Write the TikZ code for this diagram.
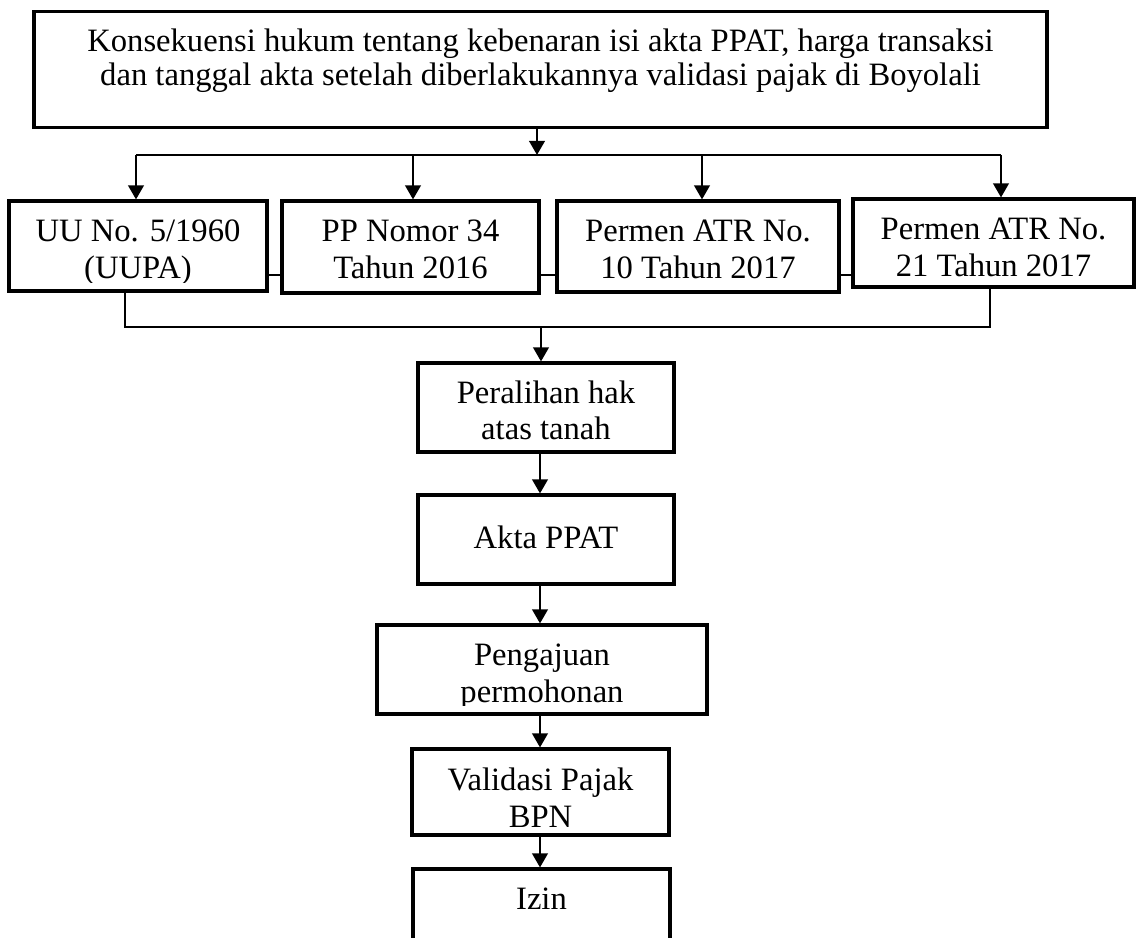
\documentclass[tikz,border=0pt]{standalone}
\usepackage{fontspec}
\setmainfont{Liberation Serif}
\usetikzlibrary{arrows.meta,calc}
\newlength{\satuan}
\setlength{\satuan}{0.025cm}
\newcommand{\isikotak}[4][]{%
        \begin{scope}
                \clip ([shift={(3pt,-3pt)}]#2.north west) rectangle ([shift={(-3pt,7pt)}]#2.south east);
                \node[teks,#1] (#2-teks) at ([yshift=#4]#2.center) {#3};
        \end{scope}}

\begin{document}
\begin{tikzpicture}[x=0.025cm, y=-0.025cm,
        kotak/.style 2 args={draw, line width=2.2pt, minimum width=#1\satuan, minimum height=#2\satuan, inner sep=0pt},
        teks/.style={align=center, inner sep=0pt, font=\fontsize{23.2}{26}\selectfont},
        panah/.style={line width=1.8pt, -{Triangle[length=10pt,width=11pt]}},
        tipis/.style={line width=0.9pt}]
        \useasboundingbox (0,0) rectangle (1139,938);
        \node[kotak={1013}{116}] (judul) at (540.5,69.5) {};
        \isikotak[font=\fontsize{23.2}{24.2}\selectfont]{judul}{Konsekuensi hukum tentang kebenaran isi akta PPAT, harga transaksi\\dan tanggal akta setelah diberlakukannya validasi pajak di Boyolali}{6.5pt}
        \node[kotak={258}{90}] (uu) at (138,246) {};
        \isikotak{uu}{UU No. 5/1960\\(UUPA)}{-4.7pt}
        \node[kotak={257}{92}] (pp) at (410.5,247) {};
        \isikotak{pp}{PP Nomor 34\\Tahun 2016}{-1.5pt}
        \node[kotak={282}{91}] (atr10) at (698,246.5) {};
        \isikotak{atr10}{Permen ATR No.\\10 Tahun 2017}{-1.9pt}
        \node[kotak={281}{88}] (atr21) at (993.5,243) {};
        \isikotak{atr21}{Permen ATR No.\\21 Tahun 2017}{-3.1pt}
        \node[kotak={256}{89}] (peralihan) at (546,407.5) {};
        \isikotak{peralihan}{Peralihan hak\\atas tanah}{-2pt}
        \node[kotak={256}{89}] (akta) at (546,539.5) {};
        \isikotak{akta}{Akta PPAT}{1.8pt}
        \node[kotak={330}{89}] (pengajuan) at (542,669.5) {};
        \isikotak{pengajuan}{Pengajuan\\permohonan}{-4.9pt}
        \node[kotak={257}{86}] (validasi) at (540.5,792) {};
        \isikotak{validasi}{Validasi Pajak\\BPN}{-4.2pt}
        \node[kotak={257}{90}] (izin) at (541.5,914) {};
        \isikotak{izin}{Izin}{10.7pt}
        \coordinate (cabang) at (537,155);
        \coordinate (sambung) at (0,275);
        \coordinate (gabung) at (541,327);
        \coordinate (sumbu) at (540,0);
        \draw[panah] (judul.south -| cabang) -- (cabang);
        \draw[tipis] ($(uu.north |- cabang)+(-2,0)$) -- ($(atr21.north |- cabang)+(7.5,0)$);
        \foreach \kotak/\geser in {uu/-2,pp/2.5,atr10/4,atr21/7.5}
                \draw[panah] ($(\kotak.north |- cabang)+(\geser,0)$) -- ($(\kotak.north)+(\geser,0)$);
        \foreach \a/\b in {uu/pp,pp/atr10,atr10/atr21}
                \draw[tipis] (\a.east |- sambung) -- (\b.west |- sambung);
        \draw[tipis] ([xshift=-13\satuan]uu.south) |- (gabung) -| ([xshift=-3.5\satuan]atr21.south);
        \draw[panah] (gabung) -- (gabung |- peralihan.north);
        \foreach \a/\b in {peralihan/akta,akta/pengajuan,pengajuan/validasi,validasi/izin}
                \draw[panah] (\a.south -| sumbu) -- (\b.north -| sumbu);
\end{tikzpicture}
\end{document}
